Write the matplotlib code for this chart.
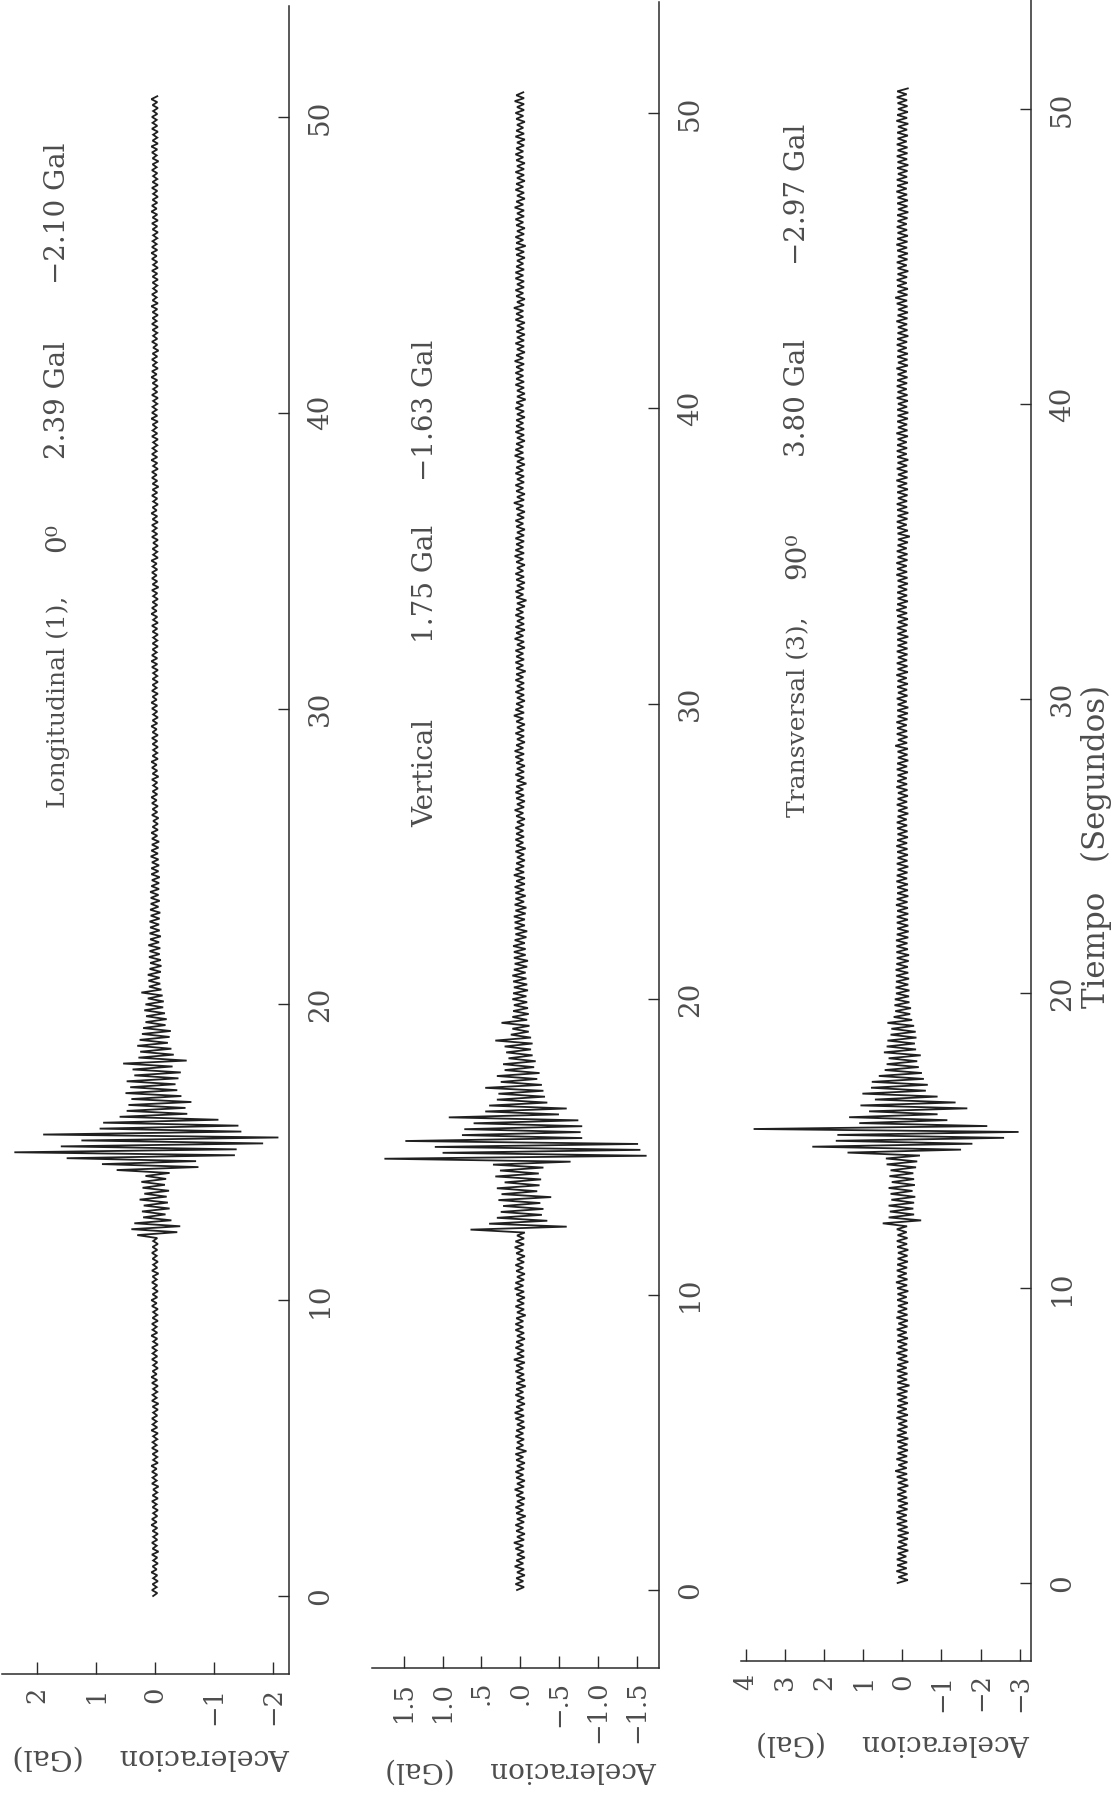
import numpy as np
import matplotlib
matplotlib.use("Agg")
import matplotlib.pyplot as plt

FAMILY = ["DejaVu Serif", "DejaVu Sans"]
plt.rcParams["font.family"] = FAMILY

# ---------------- data (acceleration in centi-Gal, one sample every 0.1 s) ----------------
DT = 0.1
time_ticks = [0, 10, 20, 30, 40, 50]

long_ticks = [2, 1, 0, -1, -2]
long_ticklabels = ["2", "1", "0", "\u22121", "\u22122"]
vert_ticks = [1.5, 1.0, 0.5, 0.0, -0.5, -1.0, -1.5]
vert_ticklabels = ["1.5", "1.0", ".5", ".0", "\u2212.5", "\u22121.0", "\u22121.5"]
trans_ticks = [4, 3, 2, 1, 0, -1, -2, -3]
trans_ticklabels = ["4", "3", "2", "1", "0", "\u22121", "\u22122", "\u22123"]

long_pre = [3,-4,5,-3,4,-5,3,-4,6,-3, 4,-5,3,-4,5,-6,4,-3,5,-4, 3,-5,4,-4,6,-3,5,-4,3,-5,
            4,-3,5,-5,4,-4,3,-6,5,-3, 4,-4,5,-3,6,-5,3,-4,4,-5, 5,-3,4,-4,3,-5,6,-4,4,-3,
            5,-4,3,-5,4,-6,5,-3,4,-4, 3,-5,5,-4,6,-3,4,-5,3,-4, 5,-4,4,-3,5,-5,3,-4,6,-4,
            4,-3,5,-5,4,-4,3,-5,5,-3, 6,-4,4,-5,3,-4,5,-3,4,-6, 5,-4,3,-5,4,-3,5,-4,4,-5, 3,-4]
long_burst = [30,-38,40,-43,35,-28,
              20,-18,22,-25,19,-22,26,-20,18,-24,21,-17,23,-19,16,-25,
              65,-74,90,-70,150,-136,239,-139,160,-184,125,-210,190,-147,94,-142,88,-108,
              60,-55,48,-52,45,-62,40,-45,50,-38,42,-35,48,-40,35,-44,38,-30,54,-54,
              28,-32,25,-28,30,-22,26,-25,22,-27,20,-18,16,-20,15,-17,18,-14,16,-15,
              12,-13,23,-11]
long_post = [10,-9,11,-8,12,-10,9,-11,8,-10, 10,-8,9,-9,11,-7,8,-10,9,-8, 8,-7,9,-8,7,-9,8,-6,7,-8,
             7,-6,8,-7,6,-7,5,-8,6,-6, 6,-7,5,-6,7,-5,6,-6,5,-7,
             5,-4,6,-5,4,-5,3,-6,5,-4, 4,-5,5,-3,6,-4,4,-5,3,-4, 5,-6,4,-4,5,-3,6,-5,4,-4,
             3,-5,4,-4,5,-5,4,-3,6,-4, 4,-5,3,-4,5,-4,6,-3,4,-5, 5,-3,4,-5,4,-4,3,-5,5,-4,
             6,-4,5,-3,4,-5,4,-4,3,-5, 4,-4,5,-5,3,-4,6,-3,5,-4, 4,-5,3,-4,5,-6,4,-4,5,-3,
             5,-4,4,-3,6,-5,3,-4,4,-5, 3,-5,5,-4,4,-3,5,-5,4,-4, 6,-3,4,-5,3,-4,5,-4,4,-6,
             4,-4,5,-3,5,-5,3,-4,6,-4, 5,-3,4,-4,3,-5,5,-4,4,-3, 4,-5,6,-4,5,-3,4,-4,3,-5,
             5,-4,3,-5,4,-4,6,-3,5,-5, 4,-3,5,-4,4,-6,3,-4,5,-4, 3,-4,4,-5,5,-3,4,-5,4,-4,
             6,-5,4,-3,5,-4,3,-4,4,-5, 4,-4,5,-5,3,-4,5,-3,6,-4, 5,-3,4,-4,3,-5,4,-4,5,-5,
             4,-4,6,-3,5,-4,4,-5,3,-4, 5,-5,4,-4,3,-4,5,-3,4,-6, 4,-3,5,-4,6,-5,4,-4,3,-5,
             5,-4,4,-3,5,-4,3,-5,4,-4, 6,-4]

vert_pre = [4,-5,6,-4,5,-6,4,-5,7,-4, 5,-6,4,-5,6,-4,8,-5,4,-6, 5,-4,6,-5,4,-7,5,-4,6,-5,
            4,-6,5,-4,7,-5,4,-6,5,-4, 6,-5,4,-6,5,-4,6,-8,5,-4, 4,-5,6,-4,5,-6,4,-5,6,-5,
            7,-4,5,-6,4,-5,6,-4,5,-7, 5,-6,4,-5,6,-4,5,-6,8,-5, 4,-5,6,-4,5,-6,4,-5,6,-4,
            6,-4,5,-7,4,-5,6,-5,4,-6, 5,-5,7,-4,6,-5,4,-6,5,-4, 6,-5,4,-6,5,-4,7,-5,6,-5, 4,-6]
vert_burst = [64,-60,40,-35,30,-28,25,-30,22,-26,28,-40,24,-22,30,-25,20,-27,32,-24,26,-30,
              35,-65,175,-163,100,-155,110,-152,148,-80,75,-78,72,-80,60,-75,92,
              -50,45,-60,40,-35,30,-32,28,-30,45,-28,25,-22,30,-25,20,-18,22,-20,
              15,-16,18,-14,20,-16,32,-14,12,-11,10,-12,24,-9,10,-11,9,-10,8,-9,10,-8,9,-10,8,-9]
vert_post = [9,-8,10,-7,8,-9,7,-10,8,-7, 8,-7,9,-6,7,-8,6,-9,7,-6, 7,-6,8,-7,6,-8,7,-5,6,-7,
             6,-5,7,-6,5,-6,8,-5,6,-5, 5,-6,4,-5,6,-7,5,-4,6,-5,
             5,-4,6,-5,4,-6,5,-4,7,-5, 4,-6,5,-5,6,-4,5,-8,4,-5, 6,-5,4,-6,5,-4,6,-5,7,-4,
             5,-6,4,-5,6,-5,4,-6,5,-4, 8,-5,6,-4,5,-6,4,-5,6,-5, 4,-5,6,-4,5,-7,5,-4,6,-5,
             5,-4,6,-6,4,-5,7,-4,5,-6, 6,-5,4,-5,6,-4,5,-6,4,-8, 5,-4,6,-5,4,-6,5,-5,6,-4,
             4,-6,5,-4,7,-5,6,-4,5,-5, 6,-5,4,-6,5,-4,6,-5,4,-6, 5,-4,8,-5,4,-6,5,-4,6,-5,
             4,-5,6,-4,5,-6,4,-5,7,-4, 6,-4,5,-6,4,-5,6,-5,5,-4, 5,-6,4,-5,6,-4,5,-7,4,-6,
             4,-5,6,-5,5,-4,6,-4,5,-5, 7,-4,5,-6,4,-5,6,-5,4,-6, 5,-5,4,-6,6,-4,5,-4,8,-5,
             4,-6,5,-4,6,-5,4,-5,6,-4, 6,-5,5,-4,4,-6,5,-5,6,-7, 5,-4,6,-5,4,-6,5,-4,6,-5,
             4,-5,7,-4,5,-6,4,-5,6,-4, 5,-6,4,-5,6,-5,4,-6,5,-4, 6,-4,5,-5,4,-6,6,-5,5,-4,
             4,-6,5,-4,6,-5,4,-5,7,-5, 5,-4]

trans_pre = [12,-14,10,-13,15,-11,13,-12,14,-10, 11,-15,13,-12,10,-14,12,-16,11,-13,
             14,-12,13,-11,15,-13,10,-14,12,-12, 13,-10,12,-15,11,-13,14,-12,18,-11,
             10,-13,15,-12,12,-14,11,-13,13,-15, 14,-11,12,-13,10,-12,15,-14,12,-11,
             13,-14,11,-12,14,-13,12,-18,13,-12, 12,-13,14,-11,13,-15,11,-12,15,-13,
             11,-12,13,-14,12,-11,14,-13,10,-14, 15,-13,12,-12,11,-14,13,-11,12,-15,
             13,-12,16,-13,12,-11,14,-12,13,-14, 12,-13,11,-15,13,-12,14,-13,12,-11, 14,-12]
trans_burst = [50,-48,35,-30,32,-28,35,-30,28,-33,30,-26,35,-32,27,-30,33,-28,30,-35,
               40,-38,42,-45,140,-150,230,-179,170,-260,166,-297,380,-217,110,-115,136,-90,
               85,-166,107,-136,70,-90,102,-60,80,-65,78,-55,60,-50,45,-42,40,-38,35,-47,
               47,-35,40,-32,38,-36,30,-34,28,-30,38,-25,22,-20,18,-22,20,-18,19,-17,
               16,-18,17,-15,16,-17]
trans_post = [16,-15,17,-14,15,-16,14,-17,15,-14, 15,-13,16,-15,14,-16,13,-15,14,-14,
              14,-15,13,-14,16,-13,14,-15,13,-14, 13,-14,15,-12,14,-13,12,-15,14,-13,
              12,-14,13,-13,15,-12,13,-14,12,-13,
              13,-12,14,-11,12,-15,11,-13,14,-12, 12,-14,11,-13,15,-12,13,-11,12,-14,
              14,-12,13,-15,11,-13,12,-14,18,-12, 11,-13,14,-12,13,-11,15,-13,12,-14,
              13,-15,12,-11,14,-13,11,-12,13,-14, 12,-11,15,-14,12,-13,14,-12,11,-13,
              14,-13,12,-12,13,-15,12,-11,14,-13, 11,-14,13,-12,15,-11,13,-14,12,-12,
              13,-12,11,-14,12,-13,15,-12,13,-11, 15,-13,12,-13,14,-11,12,-14,11,-19,
              12,-14,13,-11,14,-13,12,-15,13,-12, 14,-12,11,-13,13,-14,12,-12,15,-13,
              11,-13,14,-12,12,-15,13,-11,14,-12, 13,-11,12,-14,15,-13,11,-12,13,-14,
              12,-15,13,-12,11,-14,14,-13,12,-11, 14,-12,13,-13,12,-11,15,-14,11,-13,
              13,-14,12,-11,14,-12,13,-15,12,-13, 11,-12,15,-13,12,-14,11,-13,14,-12,
              18,-13,12,-14,13,-11,14,-12,12,-15, 12,-11,14,-13,11,-14,13,-12,15,-13,
              13,-14,12,-12,14,-11,12,-13,13,-15, 11,-13,13,-14,12,-12,15,-11,13,-14,
              14,-12,11,-13,13,-15,12,-12,14,-13, 12,-13,14,-11,12,-14,13,-12,11,-15,
              15,-12,13,-14,11,-13,12,-12,14,-11, 13,-14]

titles = [["Longitudinal (1),", "0\u2070", "2.39 Gal", "\u22122.10 Gal"],
          ["Vertical", "1.75 Gal", "\u22121.63 Gal"],
          ["Transversal (3),", "90\u2070", "3.80 Gal", "\u22122.97 Gal"]]
ylabel_text = "Aceleracion    (Gal)"
xlabel_text = "Tiempo   (Segundos)"

# ---------------- figure ----------------
W, H = 1119, 1796
fig = plt.figure(figsize=(W / 100, H / 100), dpi=100)
fig.patch.set_facecolor("white")
renderer = fig.canvas.get_renderer()

TEXT = "#4d4d4d"
LINE = "#2b2b2b"
TLIM = (-2.65, 53.75)


def rect(l, r, t, b):
    return [l / W, 1 - b / H, (r - l) / W, (b - t) / H]


panels = [
    dict(data=[long_pre, long_burst, long_post], rect=rect(2, 289, 6.0, 1674.4),
         xlim=(2.60, -2.28), ticks=long_ticks, labels=long_ticklabels),
    dict(data=[vert_pre, vert_burst, vert_post], rect=rect(372, 659, 2.2, 1668.3),
         xlim=(1.91, -1.79), ticks=vert_ticks, labels=vert_ticklabels),
    dict(data=[trans_pre, trans_burst, trans_post], rect=rect(740.7, 1030.7, -1.5, 1661.1),
         xlim=(4.13, -3.28), ticks=trans_ticks, labels=trans_ticklabels),
]

for p in panels:
    acc = np.concatenate([np.asarray(s, float) for s in p["data"]]) / 100.0
    t = np.arange(len(acc)) * DT
    ax = fig.add_axes(p["rect"])
    ax.patch.set_alpha(0)
    ax.plot(acc, t, color="#202020", lw=1.3, solid_joinstyle="miter")
    ax.set_xlim(*p["xlim"])
    ax.set_ylim(*TLIM)
    for s in ("top", "left"):
        ax.spines[s].set_visible(False)
    for s in ("right", "bottom"):
        ax.spines[s].set_color(LINE)
        ax.spines[s].set_linewidth(1.1)
    ax.yaxis.tick_right()
    ax.set_yticks(time_ticks, [str(v) for v in time_ticks], rotation=90, va="center", ha="left")
    ax.set_xticks(p["ticks"], p["labels"], rotation=90, ha="center", va="top")
    ax.tick_params(axis="y", direction="in", length=8, width=1.0, pad=13, labelsize=20,
                   color=LINE, labelcolor=TEXT, left=False, right=True,
                   labelleft=False, labelright=True)
    ax.tick_params(axis="x", direction="in", length=8.5, width=1.0, pad=9, labelsize=18.5,
                   color=LINE, labelcolor=TEXT)


def place(s, x, y, rot, target=None, fs=18, va="center", ha="center"):
    txt = fig.text(x / W, 1 - y / H, s, rotation=rot, rotation_mode="anchor",
                   ha=ha, va=va, fontsize=fs, color=TEXT, family=FAMILY)
    if target:
        for _ in range(3):
            bb = txt.get_window_extent(renderer=renderer)
            cur = bb.height if rot in (90, 270) else bb.width
            txt.set_fontsize(txt.get_fontsize() * target / cur)
    return txt


TFS = 20
# titles: pieces placed along the rotated "top" of each panel
place(titles[0][0], 65, 808, 90, fs=18, va="baseline", ha="left")
place(titles[0][1], 65, 537, 90, fs=TFS, va="baseline")
place(titles[0][2], 65, 400, 90, fs=TFS, va="baseline")
place(titles[0][3], 65, 143, 90, fs=TFS, va="baseline", ha="right")

place(titles[1][0], 433, 827, 90, fs=TFS, va="baseline", ha="left")
place(titles[1][1], 433, 584, 90, fs=TFS, va="baseline")
place(titles[1][2], 433, 340, 90, fs=TFS, va="baseline", ha="right")

place(titles[2][0], 805, 817, 90, fs=18, va="baseline", ha="left")
place(titles[2][1], 805, 556, 90, fs=TFS, va="baseline")
place(titles[2][2], 805, 398, 90, fs=TFS, va="baseline")
place(titles[2][3], 805, 124, 90, fs=TFS, va="baseline", ha="right")

# acceleration labels (upside down) and time label
place(ylabel_text, 151.5, 1757, 180, target=277)
place(ylabel_text, 521, 1770, 180, target=272)
place(ylabel_text, 893.5, 1743, 180, target=273)
place(xlabel_text, 1096, 846.5, 90, target=323)

fig.savefig("out.png", dpi=100, facecolor="white")
